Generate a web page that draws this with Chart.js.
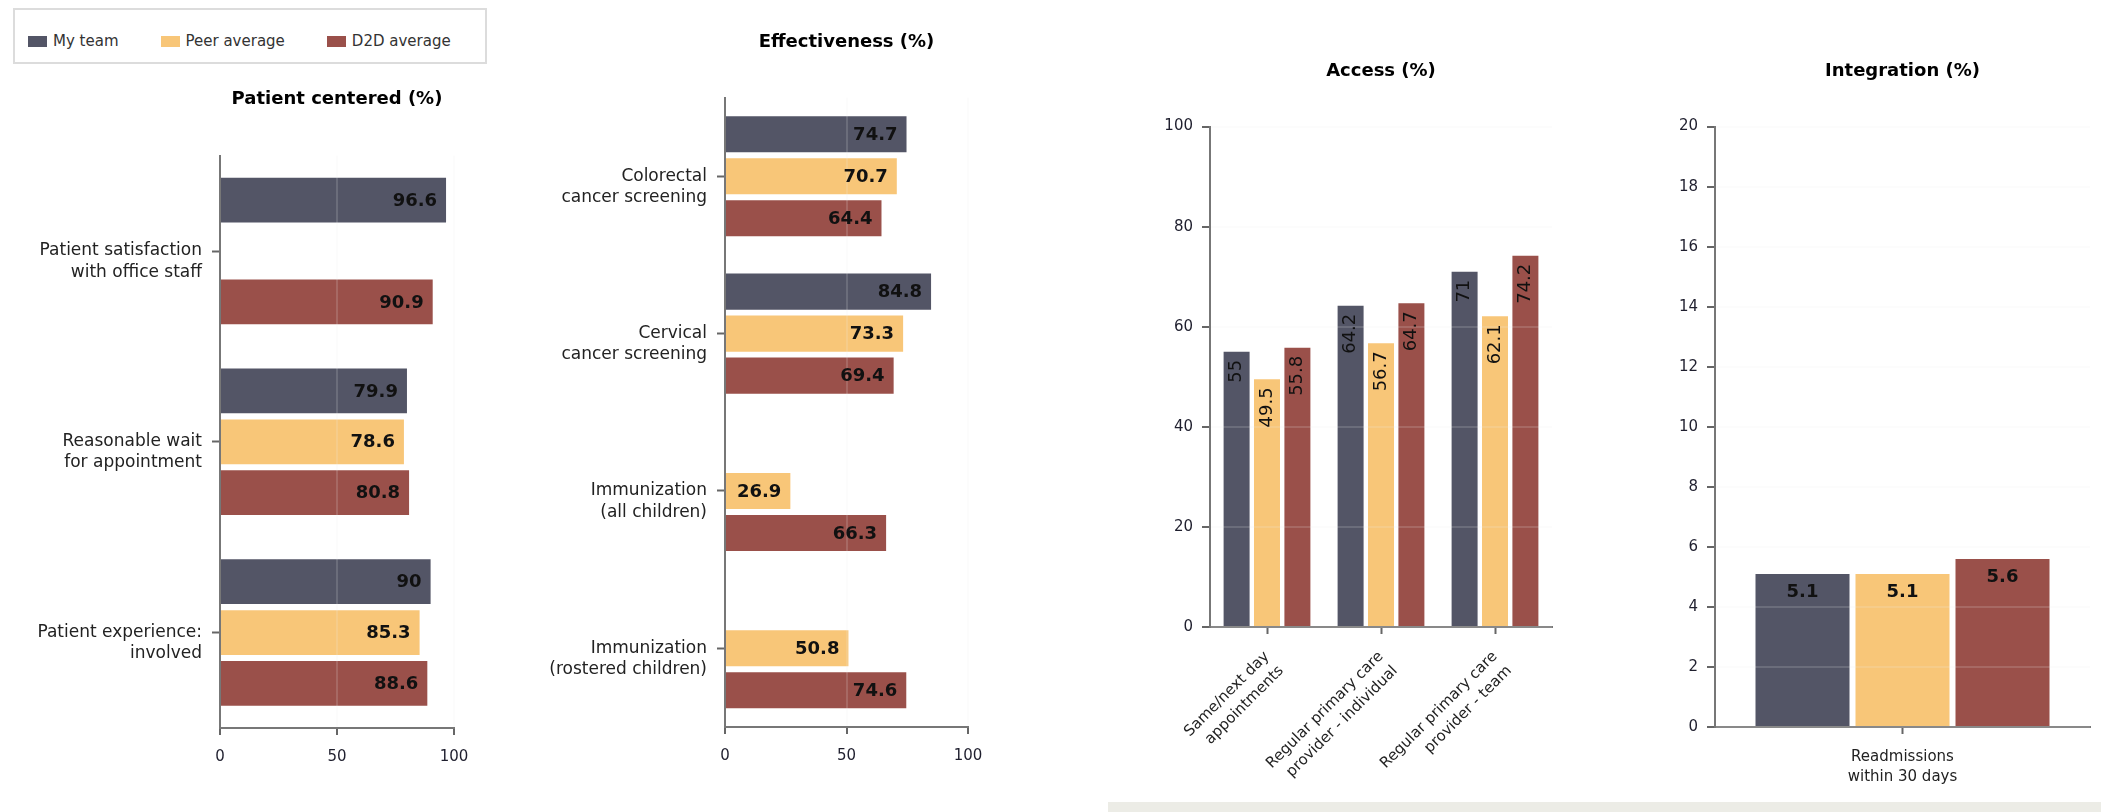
<!DOCTYPE html>
<html lang="en">
  <head>
    <meta charset="UTF-8" />
    <title>Team report | Quality indicators</title>
    <script src="https://cdn.jsdelivr.net/npm/chart.js"></script>
    <style>
      body {
        margin: 0;
        width: 2101px;
        height: 812px;
        position: relative;
        overflow: hidden;
        background: #fff;
        font-family: "DejaVu Sans", Verdana, sans-serif;
      }
      canvas {
        position: absolute;
        top: 0;
      }
      .legend {
        position: absolute;
        left: 13px;
        top: 8px;
        width: 474px;
        height: 56px;
        box-sizing: border-box;
        border: 2px solid #dcdcdc;
        padding: 10px 0 0 13px;
        display: flex;
        align-items: center;
        gap: 42px;
        font-size: 15px;
        color: #333;
      }
      .legend-item {
        display: flex;
        align-items: center;
      }
      .legend-swatch {
        width: 19px;
        height: 11px;
        margin-right: 6px;
      }
      .footer-bar {
        position: absolute;
        left: 1108px;
        right: 0;
        top: 802px;
        height: 10px;
        background: #ececE6;
      }
    </style>
  </head>
  <body>
    <div class="footer-bar"></div>
    <div id="legend" class="legend"></div>
    <canvas id="patient" width="490" height="812" style="left: 0px"></canvas>
    <canvas id="effectiveness" width="504" height="812" style="left: 500px"></canvas>
    <canvas id="access" width="472" height="812" style="left: 1100px"></canvas>
    <canvas id="integration" width="461" height="812" style="left: 1640px"></canvas>

    <script>
      const seriesNames = ["My team", "Peer average", "D2D average"];
      const seriesColors = ["#535566", "#f8c678", "#9a504a"];

      const patientLabels = [
        ["Patient satisfaction", "with office staff"],
        ["Reasonable wait", "for appointment"],
        ["Patient experience:", "involved"],
      ];
      const patientMyTeam = [96.6, 79.9, 90];
      const patientPeer = [null, 78.6, 85.3];
      const patientD2D = [90.9, 80.8, 88.6];

      const effectivenessLabels = [
        ["Colorectal", "cancer screening"],
        ["Cervical", "cancer screening"],
        ["Immunization", "(all children)"],
        ["Immunization", "(rostered children)"],
      ];
      const effectivenessMyTeam = [74.7, 84.8, null, null];
      const effectivenessPeer = [70.7, 73.3, 26.9, 50.8];
      const effectivenessD2D = [64.4, 69.4, 66.3, 74.6];

      const accessLabels = [
        ["Same/next day", "appointments"],
        ["Regular primary care", "provider - individual"],
        ["Regular primary care", "provider - team"],
      ];
      const accessMyTeam = [55, 64.2, 71];
      const accessPeer = [49.5, 56.7, 62.1];
      const accessD2D = [55.8, 64.7, 74.2];

      const integrationLabels = [["Readmissions", "within 30 days"]];
      const integrationMyTeam = [5.1];
      const integrationPeer = [5.1];
      const integrationD2D = [5.6];

      const percentTicks = { min: 0, max: 100, step: 50 };
      const accessTicks = { min: 0, max: 100, step: 20 };
      const integrationTicks = { min: 0, max: 20, step: 2 };

      Chart.defaults.font.family = "'DejaVu Sans', Verdana, sans-serif";
      Chart.defaults.color = "#1f1f2e";

      const AXIS = "#777";
      const TICK = "#666";
      const GRID = "rgba(235, 235, 235, 0.16)";

      // number written on each bar
      const valueLabels = {
        id: "valueLabels",
        afterDraw(chart, args, opts) {
          const ctx = chart.ctx;
          ctx.save();
          ctx.fillStyle = "#111";
          chart.data.datasets.forEach((ds, i) => {
            chart.getDatasetMeta(i).data.forEach((bar, j) => {
              const v = ds.data[j];
              if (v === null || v === undefined) return;
              const text = String(v);
              if (opts.mode === "end") {
                ctx.font = "bold 18px 'DejaVu Sans'";
                ctx.textAlign = "right";
                ctx.textBaseline = "middle";
                ctx.fillText(text, bar.x - 9, bar.y + 1);
              } else if (opts.mode === "rotated") {
                ctx.font = "18px 'DejaVu Sans'";
                ctx.save();
                ctx.translate(bar.x, bar.y + 8);
                ctx.rotate(-Math.PI / 2);
                ctx.textAlign = "right";
                ctx.textBaseline = "middle";
                ctx.fillText(text, 0, 0);
                ctx.restore();
              } else {
                ctx.font = "bold 18px 'DejaVu Sans'";
                ctx.textAlign = "center";
                ctx.textBaseline = "middle";
                ctx.fillText(text, bar.x, bar.y + 18);
              }
            });
          });
          ctx.restore();
        },
      };

      function buildDatasets(values, barPercentage) {
        return seriesNames.map((name, i) => ({
          label: name,
          data: values[i],
          backgroundColor: seriesColors[i],
          categoryPercentage: 0.8,
          barPercentage: barPercentage,
        }));
      }

      function titleOptions(text, top, bottom) {
        return {
          display: true,
          text: text,
          fullSize: false,
          color: "#000",
          font: { size: 18, weight: "bold", lineHeight: 1.2 },
          padding: { top: top, bottom: bottom },
        };
      }

      function categoryAxis(fixed) {
        return {
          ticks: {
            color: "#222",
            font: { size: 17, lineHeight: 1.25 },
            autoSkip: false,
          },
          grid: {
            drawOnChartArea: false,
            offset: false,
            tickColor: TICK,
            tickWidth: 2,
            tickLength: 8,
            z: 1,
          },
          border: { color: AXIS, width: 2, z: 1 },
          afterFit: fixed,
        };
      }

      function valueAxis(range, fixed, tickPadding, tickLength) {
        return {
          min: range.min,
          max: range.max,
          ticks: {
            stepSize: range.step,
            color: "#1f1f2e",
            font: { size: 15 },
            padding: tickPadding,
          },
          grid: {
            color: GRID,
            lineWidth: 2,
            tickColor: TICK,
            tickWidth: 2,
            tickLength: tickLength,
            z: 1,
          },
          border: { color: AXIS, width: 2, z: 1 },
          afterFit: fixed,
        };
      }

      function horizontalChart(id, title, labels, values, opts) {
        const catAxis = categoryAxis((s) => { s.width = opts.axisWidth; });
        catAxis.ticks.padding = 10;
        catAxis.ticks.labelOffset = 10.5;
        new Chart(document.getElementById(id), {
          type: "bar",
          data: { labels: labels, datasets: buildDatasets(values, opts.barPercentage) },
          options: {
            indexAxis: "y",
            responsive: false,
            animation: false,
            layout: { padding: { left: 0, right: 36, top: 0, bottom: 0 } },
            plugins: {
              legend: { display: false },
              tooltip: { enabled: false },
              title: titleOptions(title, opts.titleTop, opts.titleBottom),
              valueLabels: { mode: "end" },
            },
            scales: {
              x: valueAxis(percentTicks, (s) => { s.height = opts.axisHeight; }, 13, 7),
              y: catAxis,
            },
          },
          plugins: [valueLabels],
        });
      }

      function verticalChart(id, title, labels, values, range, opts) {
        const catAxis = categoryAxis((s) => { s.height = opts.axisHeight; });
        catAxis.ticks.font = { size: 15, lineHeight: 1.35 };
        catAxis.ticks.padding = 13;
        catAxis.grid.tickLength = 7;
        if (opts.rotate) {
          catAxis.ticks.minRotation = opts.rotate;
          catAxis.ticks.maxRotation = opts.rotate;
        }
        new Chart(document.getElementById(id), {
          type: "bar",
          data: { labels: labels, datasets: buildDatasets(values, opts.barPercentage) },
          options: {
            responsive: false,
            animation: false,
            layout: { padding: { left: 0, right: opts.right, top: 0, bottom: 0 } },
            plugins: {
              legend: { display: false },
              tooltip: { enabled: false },
              title: titleOptions(title, 61, 44),
              valueLabels: { mode: opts.labelMode },
            },
            scales: {
              x: catAxis,
              y: valueAxis(range, (s) => { s.width = opts.axisWidth; }, 9, 8),
            },
          },
          plugins: [valueLabels],
        });
      }

      function drawLegend() {
        const box = document.getElementById("legend");
        seriesNames.forEach((name, i) => {
          const item = document.createElement("div");
          item.className = "legend-item";
          item.innerHTML = `<span class="legend-swatch" style="background:${seriesColors[i]}"></span><span>${name}</span>`;
          box.appendChild(item);
        });
      }

      drawLegend();

      horizontalChart(
        "patient",
        "Patient centered (%)",
        patientLabels,
        [patientMyTeam, patientPeer, patientD2D],
        { axisWidth: 220, axisHeight: 84, titleTop: 89, titleBottom: 45, barPercentage: 0.88 }
      );

      horizontalChart(
        "effectiveness",
        "Effectiveness (%)",
        effectivenessLabels,
        [effectivenessMyTeam, effectivenessPeer, effectivenessD2D],
        { axisWidth: 225, axisHeight: 85, titleTop: 32, titleBottom: 44, barPercentage: 0.86 }
      );

      verticalChart(
        "access",
        "Access (%)",
        accessLabels,
        [accessMyTeam, accessPeer, accessD2D],
        accessTicks,
        { axisWidth: 110, axisHeight: 185, right: 20, rotate: 45, barPercentage: 0.855, labelMode: "rotated" }
      );

      verticalChart(
        "integration",
        "Integration (%)",
        integrationLabels,
        [integrationMyTeam, integrationPeer, integrationD2D],
        integrationTicks,
        { axisWidth: 75, axisHeight: 85, right: 11, barPercentage: 0.94, labelMode: "top" }
      );
    </script>
  </body>
</html>
